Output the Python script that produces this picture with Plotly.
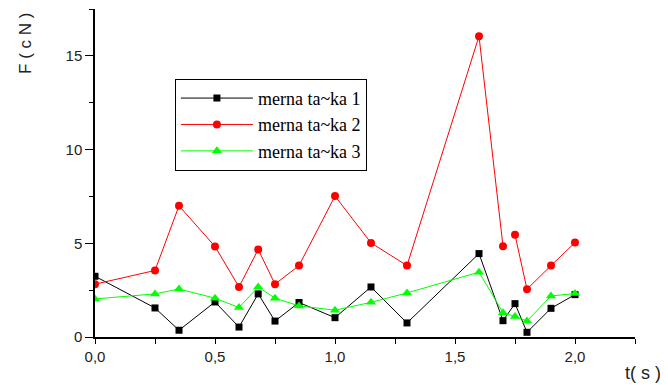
import plotly.graph_objects as go

t = [0.0, 0.25, 0.35, 0.5, 0.6, 0.68, 0.75, 0.85, 1.0, 1.15, 1.3, 1.6, 1.7, 1.75, 1.8, 1.9, 2.0]
f1 = [3.24, 1.55, 0.36, 1.87, 0.53, 2.30, 0.85, 1.84, 1.03, 2.67, 0.75, 4.45, 0.87, 1.78, 0.25, 1.53, 2.26]
f2 = [2.82, 3.55, 7.00, 4.83, 2.67, 4.67, 2.82, 3.81, 7.52, 5.02, 3.81, 16.05, 4.84, 5.45, 2.55, 3.81, 5.04]
f3 = [2.03, 2.30, 2.56, 2.07, 1.57, 2.67, 2.07, 1.66, 1.43, 1.85, 2.35, 3.46, 1.30, 1.10, 0.85, 2.19, 2.32]
names = ["merna ta~ka 1", "merna ta~ka 2", "merna ta~ka 3"]
y_ticks = [0, 5, 10, 15]
x_ticks = [0.0, 0.5, 1.0, 1.5, 2.0]
x_tick_labels = ["0,0", "0,5", "1,0", "1,5", "2,0"]
red_gap_after = 1.7  # series 2 line is not drawn between 1.7 and 1.75

fig = go.Figure()
fig.add_trace(go.Scatter(x=t, y=f1, name=names[0], mode="lines+markers",
                         line=dict(color="#000000", width=1),
                         marker=dict(symbol="square", size=7, color="#000000")))
k = t.index(red_gap_after) + 1
fig.add_trace(go.Scatter(x=t[:k], y=f2[:k], name=names[1], legendgroup="r", mode="lines+markers",
                         line=dict(color="#ff0000", width=1),
                         marker=dict(symbol="circle", size=8, color="#ff0000")))
fig.add_trace(go.Scatter(x=t[k:], y=f2[k:], name=names[1], legendgroup="r", showlegend=False,
                         mode="lines+markers", line=dict(color="#ff0000", width=1),
                         marker=dict(symbol="circle", size=8, color="#ff0000")))
fig.add_trace(go.Scatter(x=t, y=f3, name=names[2], mode="lines+markers",
                         line=dict(color="#00ff00", width=1),
                         marker=dict(symbol="triangle-up", size=9, color="#00ff00")))

sans = "Liberation Sans, Arial, sans-serif"
tickfont = dict(family=sans, size=15, color="#222")
fig.update_layout(
    width=660, height=377,
    margin=dict(l=87, r=33, t=1, b=48),
    paper_bgcolor="white", plot_bgcolor="white",
    showlegend=True,
    legend=dict(x=0.148, y=0.787, xanchor="left", yanchor="top",
                bgcolor="white", bordercolor="#000", borderwidth=1,
                font=dict(family="Liberation Serif, Times New Roman", size=18, color="#000"),
                itemwidth=72, tracegroupgap=0),
    xaxis=dict(range=[0, 2.25], showgrid=False, zeroline=False,
               showline=True, linecolor="#000", linewidth=1.5,
               tickmode="array", tickvals=x_ticks, ticktext=x_tick_labels,
               ticks="outside", ticklen=5, tickcolor="#000", tickfont=tickfont,
               minor=dict(dtick=0.25, ticks="outside", ticklen=5, tickcolor="#000")),
    yaxis=dict(range=[0, 17.5], showgrid=False, zeroline=False,
               showline=True, linecolor="#000", linewidth=1.5,
               tickmode="array", tickvals=y_ticks,
               ticks="outside", ticklen=8, tickcolor="#000", tickfont=tickfont,
               minor=dict(dtick=2.5, ticks="outside", ticklen=4, tickcolor="#000")),
    annotations=[
        dict(text="F ( c N )", xref="paper", yref="paper", x=-0.13, y=0.896,
             xanchor="center", yanchor="middle", textangle=-90, showarrow=False,
             font=dict(family=sans, size=17, color="#222")),
        dict(text="t( s )", xref="paper", yref="paper", x=1.052, y=-0.111,
             xanchor="right", yanchor="middle", showarrow=False,
             font=dict(family=sans, size=18, color="#222")),
    ],
)
fig.write_html("out.html")
